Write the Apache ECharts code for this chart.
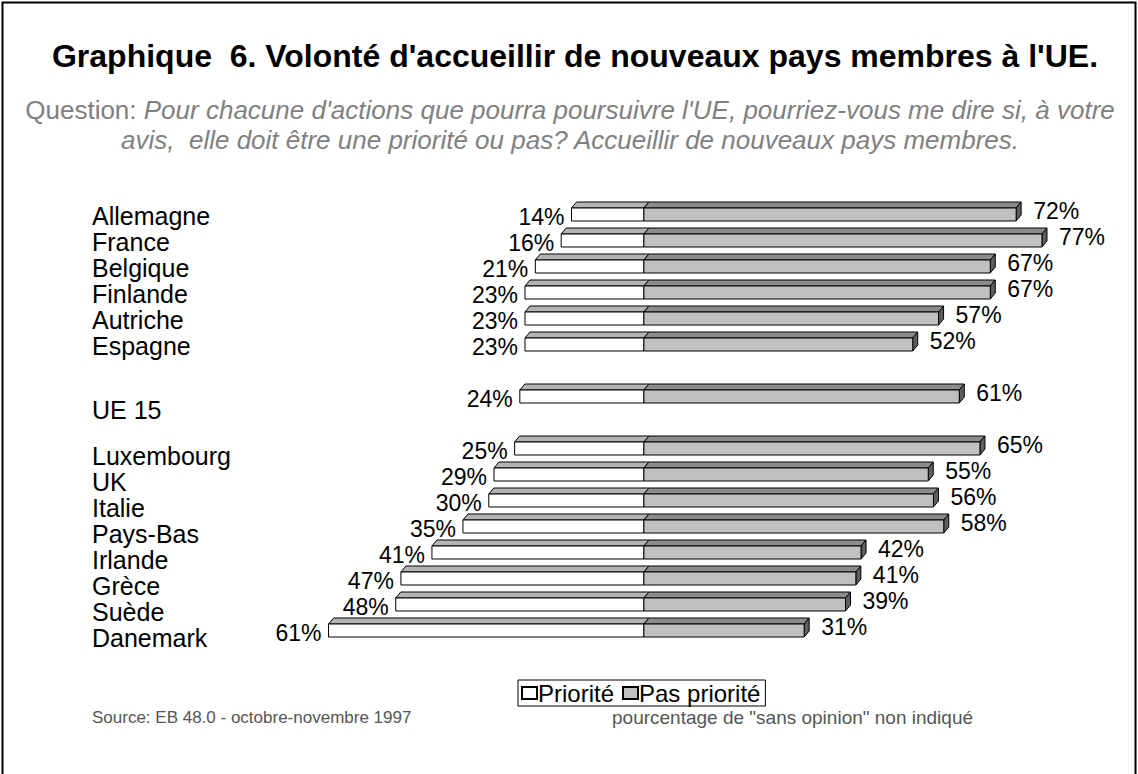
<!DOCTYPE html>
<html>
<head>
<meta charset="utf-8">
<script src="https://cdn.jsdelivr.net/npm/echarts@6/dist/echarts.min.js"></script>
<style>
html,body{margin:0;padding:0;background:#fff;}
#chart{width:1138px;height:774px;}
</style>
</head>
<body>
<div id="chart"></div>
<script>
// ---- data ----
var categories = ['Allemagne','France','Belgique','Finlande','Autriche','Espagne',' ','UE 15','  ','Luxembourg','UK','Italie','Pays-Bas','Irlande','Grèce','Suède','Danemark'];
var priorite    = [14,16,21,23,23,23,null,24,null,25,29,30,35,41,47,48,61];
var pasPriorite = [72,77,67,67,57,52,null,61,null,65,55,56,58,42,41,39,31];
var seriesNames = ['Priorité','Pas priorité'];
var titleText = "Graphique  6. Volonté d'accueillir de nouveaux pays membres à l'UE.";
var questionLabel = 'Question: ';
var questionLine1 = "Pour chacune d'actions que pourra poursuivre l'UE, pourriez-vous me dire si, à votre";
var questionLine2 = "avis,  elle doit être une priorité ou pas? Accueillir de nouveaux pays membres.";
var sourceText = 'Source: EB 48.0 - octobre-novembre 1997';
var noteText = 'pourcentage de "sans opinion" non indiqué';

var FONT = '"Liberation Sans", Arial, Helvetica, sans-serif';

var whiteData = [], grayData = [];
for (var i = 0; i < categories.length; i++) {
  if (priorite[i] != null) whiteData.push([i, -priorite[i]]);
  if (pasPriorite[i] != null) grayData.push([i, pasPriorite[i]]);
}

var H = 13, DX = 5, DY = 6;

function makeRender(isLeft) {
  return function (params, api) {
    var cat = api.value(0), v = api.value(1);
    var p0 = api.coord([0, cat]);
    var p1 = api.coord([v, cat]);
    var c = p0[1];
    var yt = c - 7, yb = yt + H;
    var x0 = p0[0], x1 = p1[0];
    var children = [];
    if (isLeft) {
      children.push({type: 'polygon', shape: {points: [[x1, yt], [x1 + DX, yt - DY], [x0 + DX, yt - DY], [x0, yt]]},
        style: {fill: '#b4b4b4', stroke: '#000', lineWidth: 1}});
      children.push({type: 'rect', shape: {x: x1, y: yt, width: x0 - x1, height: H},
        style: {fill: '#ffffff', stroke: '#000', lineWidth: 1}});
      children.push({type: 'text', style: {text: Math.abs(v) + '%', x: x1 - 7, y: c + 2,
        align: 'right', verticalAlign: 'middle', font: '23px ' + FONT, fill: '#000'}});
    } else {
      children.push({type: 'polygon', shape: {points: [[x0, yt], [x0 + DX, yt - DY], [x1 + DX, yt - DY], [x1, yt]]},
        style: {fill: '#8c8c8c', stroke: '#000', lineWidth: 1}});
      children.push({type: 'polygon', shape: {points: [[x1, yt], [x1 + DX, yt - DY], [x1 + DX, yb - DY], [x1, yb]]},
        style: {fill: '#5e5e5e', stroke: '#000', lineWidth: 1}});
      children.push({type: 'rect', shape: {x: x0, y: yt, width: x1 - x0, height: H},
        style: {fill: '#c0c0c0', stroke: '#000', lineWidth: 1}});
      children.push({type: 'text', style: {text: Math.abs(v) + '%', x: x1 + DX + 12, y: c - 4,
        align: 'left', verticalAlign: 'middle', font: '23px ' + FONT, fill: '#000'}});
    }
    return {type: 'group', children: children};
  };
}

var labelBase = {fontFamily: FONT, fontSize: 25, lineHeight: 22, color: '#000'};
var chart = echarts.init(document.getElementById('chart'), null, {renderer: 'svg'});
chart.setOption({
  backgroundColor: '#fff',
  animation: false,
  title: [
    {text: titleText, left: 575, top: 40, textAlign: 'center', padding: 0,
      textStyle: {fontFamily: FONT, fontSize: 32, fontWeight: 'bold', color: '#000'}},
    {text: '{a|' + questionLabel + '}{b|' + questionLine1 + '}', left: 570, top: 97, textAlign: 'center', padding: 0,
      textStyle: {fontWeight: 'normal', rich: {
        a: {fontFamily: FONT, fontSize: 26, color: '#808080', fontWeight: 'normal'},
        b: {fontFamily: FONT, fontSize: 26, color: '#808080', fontStyle: 'italic', fontWeight: 'normal'}}}},
    {text: questionLine2, left: 570, top: 127, textAlign: 'center', padding: 0,
      textStyle: {fontFamily: FONT, fontSize: 26, color: '#808080', fontStyle: 'italic', fontWeight: 'normal'}},
    {text: sourceText, left: 92, top: 709, padding: 0,
      textStyle: {fontFamily: FONT, fontSize: 17, color: '#555', fontWeight: 'normal'}},
    {text: noteText, left: 612, top: 708, padding: 0,
      textStyle: {fontFamily: FONT, fontSize: 19, color: '#555', fontWeight: 'normal'}}
  ],
  legend: {
    data: seriesNames,
    left: 518, top: 680,
    orient: 'horizontal',
    borderColor: '#000', borderWidth: 1, borderRadius: 0,
    padding: [1, 5, 1, 3],
    itemWidth: 15, itemHeight: 12, itemGap: 8,
    icon: 'rect',
    textStyle: {fontFamily: FONT, fontSize: 24, lineHeight: 22, color: '#000', padding: [0, 0, 0, -4]}
  },
  grid: {left: 282, top: 202, width: 775.5, height: 442, containLabel: false},
  xAxis: {type: 'value', min: -70, max: 80, show: false},
  yAxis: {
    type: 'category', data: categories, inverse: true,
    axisLine: {show: false}, axisTick: {show: false}, splitLine: {show: false},
    axisLabel: {
      interval: 0, align: 'left', margin: 190, fontFamily: FONT, fontSize: 25, color: '#000',
      formatter: function (value, index) {
        if (!value.trim()) return '';
        var style = index < 6 ? 't' : (index < 9 ? 'u' : 'b');
        return '{' + style + '|' + value + '}';
      },
      rich: {
        t: Object.assign({padding: [1, 0, -1, 0]}, labelBase),
        u: Object.assign({padding: [13, 0, -13, 0]}, labelBase),
        b: Object.assign({padding: [7, 0, -7, 0]}, labelBase)
      }
    }
  },
  series: [
    {name: seriesNames[0], type: 'custom', renderItem: makeRender(true), data: whiteData,
      encode: {x: 1, y: 0},
      itemStyle: {color: '#ffffff', borderColor: '#000', borderWidth: 1}},
    {name: seriesNames[1], type: 'custom', renderItem: makeRender(false), data: grayData,
      encode: {x: 1, y: 0},
      itemStyle: {color: '#c0c0c0', borderColor: '#000', borderWidth: 1}}
  ],
  graphic: [
    {type: 'rect', shape: {x: 2.5, y: 2.5, width: 1133, height: 780}, silent: true,
      style: {fill: 'none', stroke: '#000', lineWidth: 2}, z: 100}
  ]
});
</script>
</body>
</html>
